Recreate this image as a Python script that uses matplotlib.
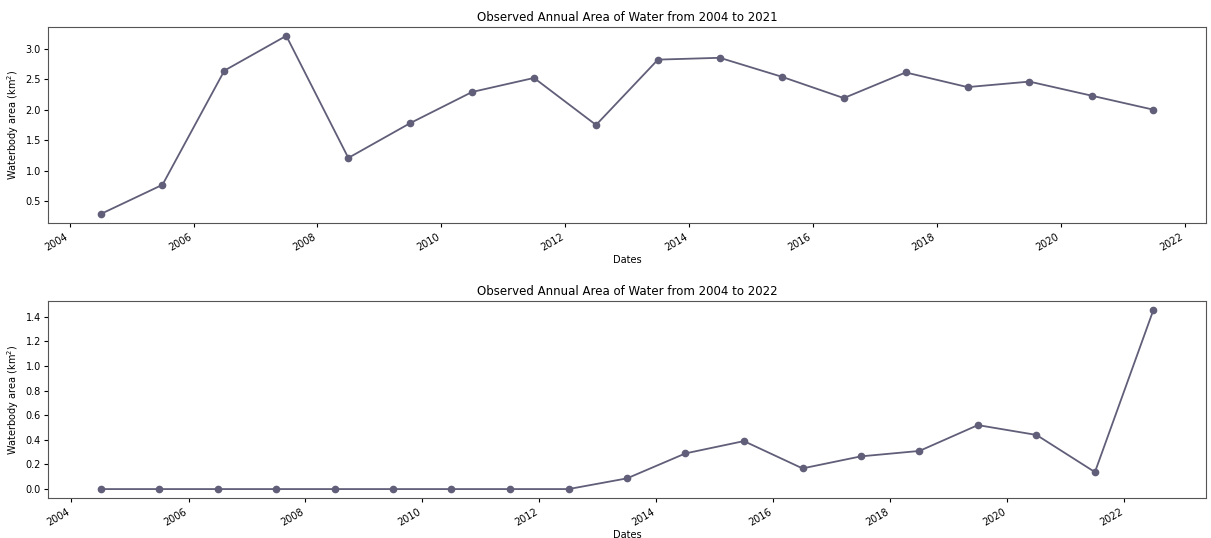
import datetime as dt
import matplotlib
matplotlib.use("Agg")
import matplotlib.pyplot as plt
import matplotlib.dates as mdates

# Annual water area, observation dated mid-year
years_a = list(range(2004, 2022))
area_a = [0.29, 0.77, 2.64, 3.21, 1.21, 1.78, 2.29, 2.52, 1.75, 2.82,
          2.85, 2.54, 2.19, 2.61, 2.37, 2.46, 2.23, 2.00]

years_b = list(range(2004, 2023))
area_b = [0.0, 0.0, 0.0, 0.0, 0.0, 0.0, 0.0, 0.0, 0.0, 0.087,
          0.29, 0.39, 0.168, 0.266, 0.31, 0.52, 0.44, 0.138, 1.456]

title_a = "Observed Annual Area of Water from 2004 to 2021"
title_b = "Observed Annual Area of Water from 2004 to 2022"
y_label = "Waterbody area (km$^2$)"
x_label = "Dates"

line_color = "#605e78"

fig = plt.figure(figsize=(12.11, 5.38), dpi=100)
ax1 = fig.add_axes([0.0396, 0.5855, 0.9563, 0.3645])
ax2 = fig.add_axes([0.0396, 0.0743, 0.9563, 0.3662])

for ax, years, vals, title in ((ax1, years_a, area_a, title_a),
                               (ax2, years_b, area_b, title_b)):
    dates = [dt.date(y, 7, 1) for y in years]
    ax.plot(dates, vals, color=line_color, marker="o", markersize=4.5,
            linewidth=1.3)
    ax.set_title(title, fontsize=8.5, pad=4)
    ax.set_ylabel(y_label, fontsize=7, labelpad=3)
    ax.set_xlabel(x_label, fontsize=7, labelpad=1)
    ax.xaxis.set_major_locator(mdates.YearLocator(2))
    ax.xaxis.set_major_formatter(mdates.DateFormatter("%Y"))
    ax.tick_params(axis="both", labelsize=7, length=3)
    ax.tick_params(axis="y", pad=2)
    for lbl in ax.get_xticklabels():
        lbl.set_rotation(30)
        lbl.set_horizontalalignment("right")
    for s in ax.spines.values():
        s.set_color("#555555")

fig.savefig("out.png", dpi=100)
